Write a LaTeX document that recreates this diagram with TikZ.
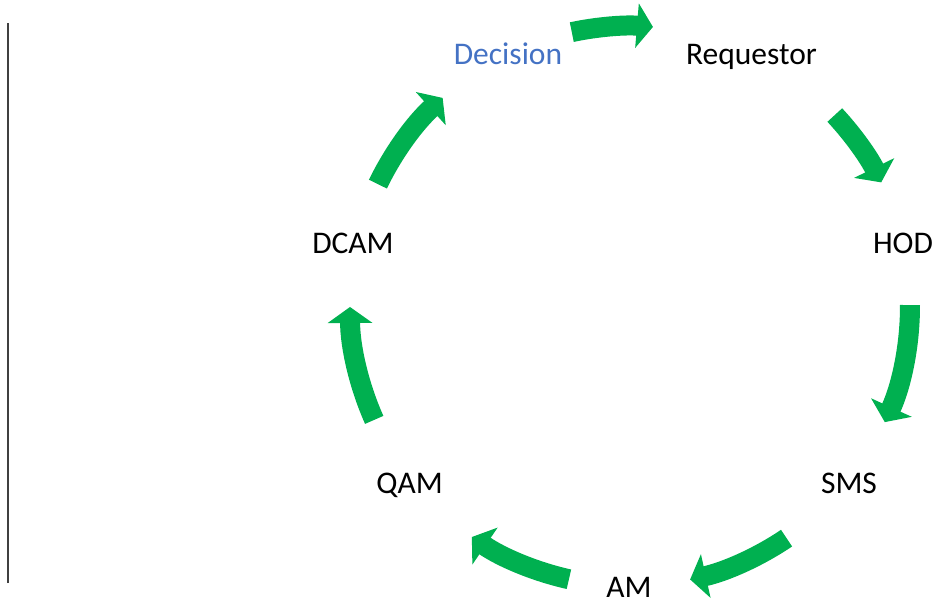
\documentclass[tikz,border=0pt]{standalone}
\usepackage{fontspec}
\setmainfont{Carlito}
\usetikzlibrary{arrows.meta}
\definecolor{flowgreen}{HTML}{00B050}
\definecolor{decblue}{HTML}{4472C4}

\begin{document}
\begin{tikzpicture}[x=1pt,y=1pt,
	every node/.style={font=\fontsize{31.5}{37}\selectfont,anchor=base,inner sep=0pt},
	flow/.style={draw=flowgreen,line width=20pt,-{Triangle[length=16pt,width=44pt]}}]
	\useasboundingbox (0,0) rectangle (935,603);
	\draw[line width=2pt,black!75] (7.5,20) coordinate (rulebot) -- (7.5,580) coordinate (ruletop);
	\coordinate (c) at (630,297);
	\node[text=decblue] (dec) at (508,538) {Decision};
	\node (req) at (751.5,538) {Requestor};
	\node (hod) at (903,349) {HOD};
	\node (sms) at (849,110) {SMS};
	\node (am) at (629,6) {AM};
	\node (qam) at (409.5,110) {QAM};
	\node (dcam) at (353,349) {DCAM};
	\foreach \a/\b in {102/85.3,43/26.2,0.2/-24.5,-56/-77.6,257.4/235.6,204/180.2,154.2/132}
		\draw[flow] ([shift={(\a:280)}]c) arc[start angle=\a,end angle=\b,radius=280];
\end{tikzpicture}
\end{document}
